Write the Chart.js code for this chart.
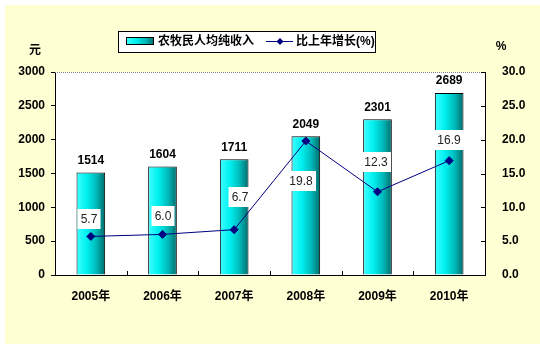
<!DOCTYPE html>
<html>
<head>
<meta charset="utf-8">
<style>
  html, body { margin: 0; padding: 0; background: #fff; }
  #wrap { width: 540px; height: 344px; }
</style>
</head>
<body>
<div id="wrap"><canvas id="incomeChart" width="540" height="344"></canvas></div>
<script src="https://cdn.jsdelivr.net/npm/chart.js@4/dist/chart.umd.min.js"></script>
<script>
// Rural per-capita net income and yearly growth
const YEARS = ["2005年", "2006年", "2007年", "2008年", "2009年", "2010年"];
const INCOME = [1514, 1604, 1711, 2049, 2301, 2689];
const GROWTH = [5.7, 6.0, 6.7, 19.8, 12.3, 16.9];
const INCOME_TICKS = [0, 500, 1000, 1500, 2000, 2500, 3000];
const GROWTH_TICKS = [0, 5, 10, 15, 20, 25, 30];

const INCOME_NAME = "农牧民人均纯收入";
const GROWTH_NAME = "比上年增长(%)";

// growth label box placement relative to its point (dx, dy)
const GROWTH_LABEL_OFFSETS = [[-2, -17], [0, -18], [6, -33], [-5, 40], [-2, -30], [0, -21]];

const FONT = "'Liberation Sans', 'Noto Sans CJK SC', sans-serif";
const BAR_SHARE = 0.4;

function barGradient(ctx, left, right) {
    const g = ctx.createLinearGradient(left, 0, right, 0);
    g.addColorStop(0, "#40ffff");
    g.addColorStop(0.35, "#00f0f0");
    g.addColorStop(0.7, "#00b8b8");
    g.addColorStop(1, "#006a6a");
    return g;
}

function barFill(context) {
    const chart = context.chart;
    const xs = chart.scales.x;
    if (!xs || context.dataIndex === undefined) return "#00cccc";
    const cx = xs.getPixelForValue(context.dataIndex);
    const half = xs.width / YEARS.length * BAR_SHARE / 2;
    if (!isFinite(cx) || !isFinite(half) || half <= 0) return "#00cccc";
    return barGradient(chart.ctx, cx - half, cx + half);
}

const decorPlugin = {
    id: "decor",
    beforeDraw(chart) {
        const ctx = chart.ctx;
        const a = chart.chartArea;
        ctx.save();
        ctx.fillStyle = "#ffffff";
        ctx.fillRect(0, 0, chart.width, chart.height);
        ctx.fillStyle = "#ffffd4";
        ctx.fillRect(5, 5, chart.width - 5, chart.height - 5);
        ctx.fillStyle = "#ffffff";
        ctx.fillRect(a.left, a.top, a.right - a.left, a.bottom - a.top);
        ctx.restore();
    },
    afterDraw(chart) {
        const ctx = chart.ctx;
        const a = chart.chartArea;
        const xs = chart.scales.x;
        const y1 = chart.scales.y1;
        ctx.save();

        // dotted top edge of the plot area
        ctx.strokeStyle = "#808080";
        ctx.lineWidth = 1;
        ctx.setLineDash([1, 1]);
        ctx.beginPath();
        ctx.moveTo(a.left, a.top + 0.5);
        ctx.lineTo(a.right, a.top + 0.5);
        ctx.stroke();
        ctx.setLineDash([]);

        // inward tick marks between categories and on the right axis
        ctx.strokeStyle = "#000";
        ctx.beginPath();
        const step = xs.width / YEARS.length;
        for (let i = 1; i < YEARS.length; i++) {
            const x = Math.round(xs.getPixelForValue(i) - step / 2) + 0.5;
            ctx.moveTo(x, a.bottom);
            ctx.lineTo(x, a.bottom - 4);
        }
        GROWTH_TICKS.forEach(v => {
            const y = Math.round(y1.getPixelForValue(v)) + 0.5;
            ctx.moveTo(a.right, y);
            ctx.lineTo(a.right - 4, y);
        });
        ctx.stroke();

        // axis units
        ctx.fillStyle = "#000";
        ctx.font = "bold 12px " + FONT;
        ctx.textAlign = "center";
        ctx.textBaseline = "middle";
        ctx.fillText("元", 35, 51);
        ctx.fillText("%", 501, 47);

        // legend
        ctx.fillStyle = "#fff";
        ctx.fillRect(118, 31, 257, 21);
        ctx.strokeStyle = "#000";
        ctx.strokeRect(118.5, 31.5, 257, 21);
        ctx.fillStyle = barGradient(ctx, 126, 154);
        ctx.fillRect(126, 37, 28, 8);
        ctx.strokeRect(126.5, 37.5, 27, 7);
        ctx.fillStyle = "#000";
        ctx.textAlign = "left";
        ctx.font = "bold 12px " + FONT;
        ctx.fillText(INCOME_NAME, 158, 42);
        ctx.strokeStyle = "#000080";
        ctx.beginPath();
        ctx.moveTo(266, 41.5);
        ctx.lineTo(293, 41.5);
        ctx.stroke();
        ctx.fillStyle = "#000080";
        ctx.beginPath();
        ctx.moveTo(280, 38);
        ctx.lineTo(283.5, 41.5);
        ctx.lineTo(280, 45);
        ctx.lineTo(276.5, 41.5);
        ctx.closePath();
        ctx.fill();
        ctx.fillStyle = "#000";
        ctx.fillText(GROWTH_NAME, 296, 42);

        // bar values
        const bars = chart.getDatasetMeta(0).data;
        ctx.textAlign = "center";
        ctx.font = "bold 12px " + FONT;
        bars.forEach((bar, i) => {
            ctx.fillText(String(INCOME[i]), bar.x, bar.y - 12);
        });

        // growth values in white boxes
        const points = chart.getDatasetMeta(1).data;
        ctx.font = "12px " + FONT;
        points.forEach((pt, i) => {
            const text = GROWTH[i].toFixed(1);
            const w = Math.ceil(ctx.measureText(text).width) + 6;
            const h = 20;
            const cx = Math.round(pt.x + GROWTH_LABEL_OFFSETS[i][0]);
            const cy = Math.round(pt.y + GROWTH_LABEL_OFFSETS[i][1]);
            ctx.fillStyle = "#fff";
            ctx.fillRect(cx - w / 2, cy - h / 2, w, h);
            ctx.fillStyle = "#222";
            ctx.fillText(text, cx, cy + 1);
        });

        ctx.restore();
    }
};

new Chart(document.getElementById("incomeChart"), {
    data: {
        labels: YEARS,
        datasets: [{
            type: "bar",
            label: INCOME_NAME,
            data: INCOME,
            yAxisID: "y",
            backgroundColor: barFill,
            borderColor: "#000",
            borderWidth: 1,
            categoryPercentage: 1,
            barPercentage: BAR_SHARE,
            order: 2
        }, {
            type: "line",
            label: GROWTH_NAME,
            data: GROWTH,
            yAxisID: "y1",
            borderColor: "#000080",
            borderWidth: 1,
            pointStyle: "rectRot",
            pointRadius: 4,
            pointBackgroundColor: "#000080",
            pointBorderColor: "#000080",
            tension: 0,
            order: 1
        }]
    },
    options: {
        responsive: false,
        animation: false,
        devicePixelRatio: 1,
        layout: { padding: { top: 72, left: 0, right: 0, bottom: 0 } },
        plugins: {
            legend: { display: false },
            tooltip: { enabled: false }
        },
        scales: {
            x: {
                grid: { display: false },
                border: { color: "#000", width: 1 },
                ticks: { color: "#000", font: { family: FONT, size: 12, weight: "bold" }, padding: 6 },
                afterFit: s => { s.height = 69; }
            },
            y: {
                position: "left",
                min: 0,
                max: 3000,
                afterBuildTicks: s => { s.ticks = INCOME_TICKS.map(v => ({ value: v })); },
                grid: { drawOnChartArea: false, tickLength: 4, color: "#000" },
                border: { color: "#000", width: 1 },
                ticks: {
                    color: "#000",
                    font: { family: FONT, size: 12, weight: "bold" },
                    padding: 6,
                    callback: v => String(v)
                },
                afterFit: s => { s.width = 55; }
            },
            y1: {
                position: "right",
                min: 0,
                max: 30,
                afterBuildTicks: s => { s.ticks = GROWTH_TICKS.map(v => ({ value: v })); },
                grid: { display: false },
                border: { color: "#000", width: 1 },
                ticks: {
                    color: "#000",
                    font: { family: FONT, size: 12, weight: "bold" },
                    padding: 9,
                    callback: v => Number(v).toFixed(1)
                },
                afterFit: s => { s.width = 55; }
            }
        }
    },
    plugins: [decorPlugin]
});
</script>
</body>
</html>
